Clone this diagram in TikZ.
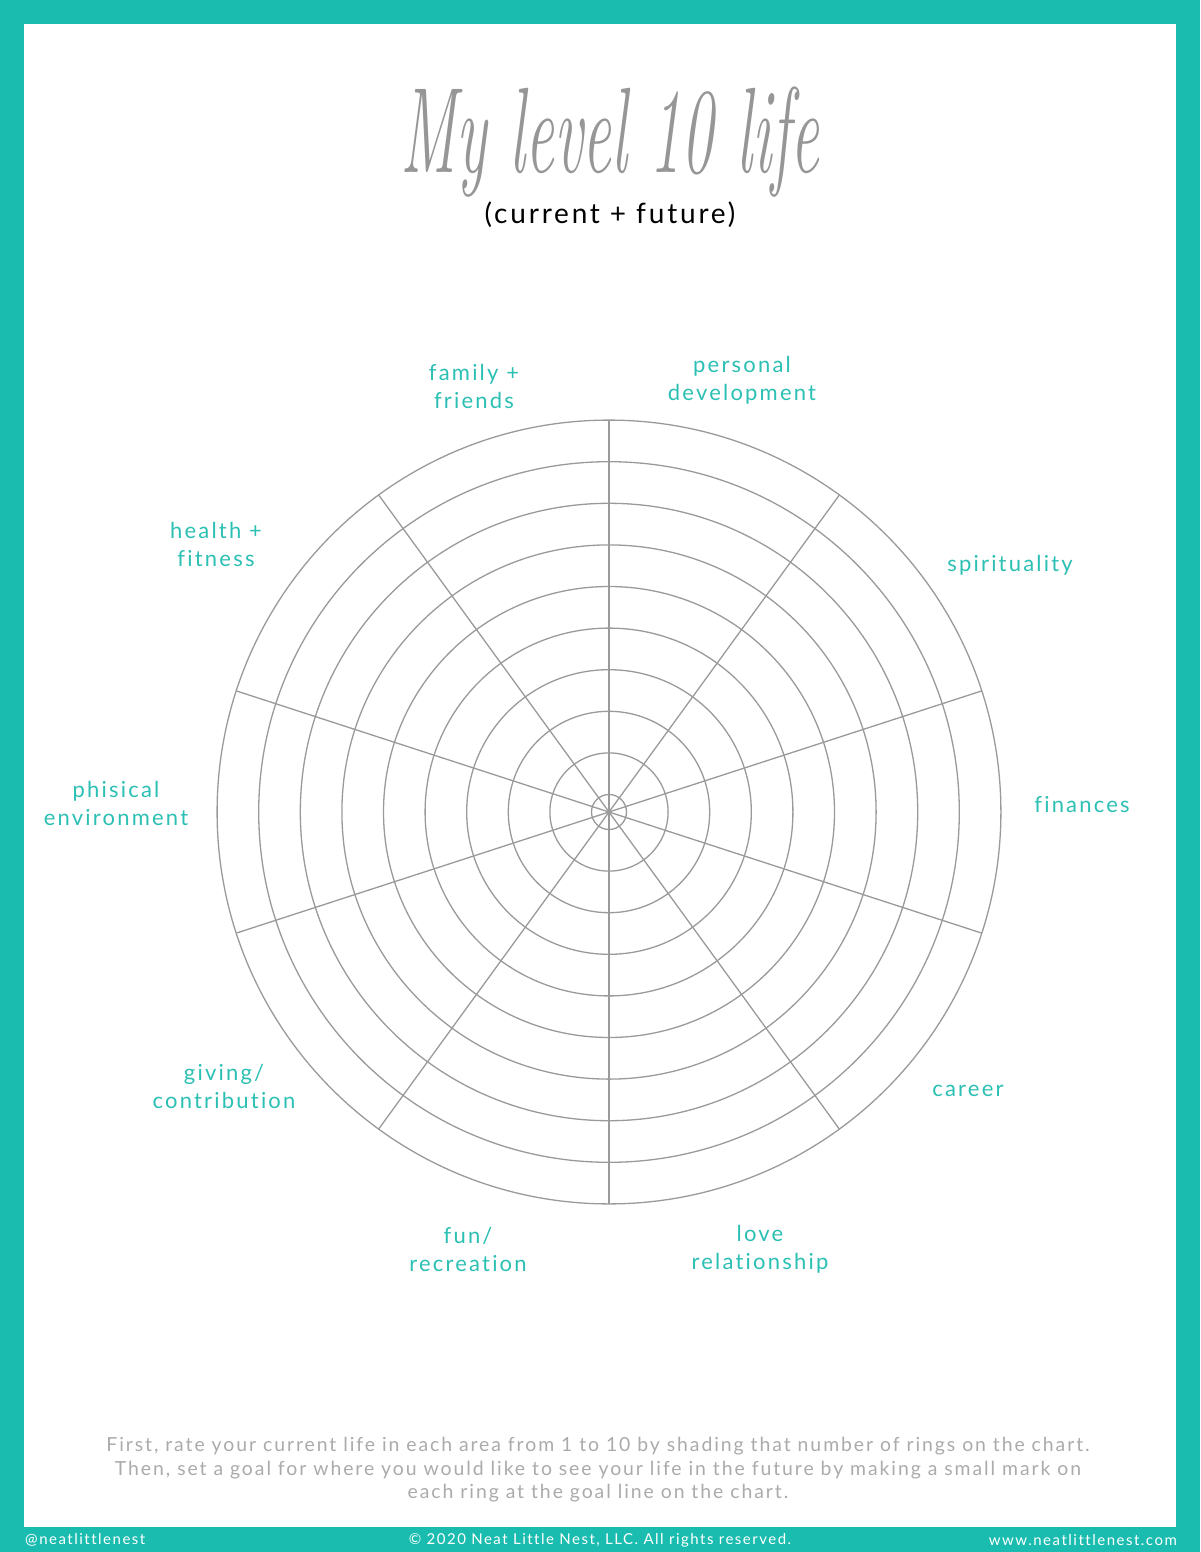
\documentclass[tikz,border=0pt]{standalone}
\usepackage{fontspec}
\setmainfont{Lato}[LetterSpace=10, Ligatures=NoCommon]
\newfontfamily\handfont{Latin Modern Roman}
\definecolor{nestteal}{HTML}{1ABCB0}
\definecolor{nestlabel}{HTML}{2CC0B4}
\definecolor{wheelgray}{HTML}{9A9A9A}
\definecolor{notegray}{HTML}{ABABAB}
\definecolor{titlegray}{HTML}{969696}

\begin{document}
\begin{tikzpicture}[x=1pt,y=-1pt,
  ring/.style={draw=wheelgray, line width=1.3pt},
  area/.style={text=nestlabel, align=center, inner sep=0pt, font=\fontsize{22}{28}\selectfont},
  foot/.style={text=white, inner sep=0pt, font=\fontsize{15}{17}\selectfont}]
% page and frame
\useasboundingbox (0,0) rectangle (1200,1552);
\fill[nestteal] (0,0) rectangle (1200,1552);
\fill[white] (24,24) rectangle (1176,1527);

% title
\node[text=titlegray, anchor=base, inner sep=0pt, transform shape, xscale=0.84, yscale=1.6,
  font=\handfont\itshape\fontsize{76}{80}\selectfont] (title) at (610,172) {My level 10 life};
\node[inner sep=0pt, font=\fontsize{28}{32}\selectfont] (subtitle) at (610,215) {(current + future)};

% wheel
\coordinate (hub) at (609,812);
\foreach \k in {0,...,9} {
  \pgfmathsetmacro\rr{17.5+41.6*\k}
  \draw[ring] (hub) circle[radius=\rr pt];
}
\foreach \a in {90,54,18,-18,-54,-90,-126,-162,162,126}
  \draw[ring] (hub) -- ++(\a:392pt);

% areas
\node[area] (family) at (474,386) {family +\\friends};
\node[area] (personal) at (742,380) {personal\\development};
\node[area] (spirit) at (1010,565) {spirituality};
\node[area] (finances) at (1082,805) {finances};
\node[area] (career) at (968,1091) {career};
\node[area] (love) at (760,1249) {love\\relationship};
\node[area] (fun) at (468,1249) {fun/\\recreation};
\node[area] (giving) at (224,1086) {giving/\\contribution};
\node[area] (physical) at (116,803) {phisical\\environment};
\node[area] (health) at (216,544) {health +\\fitness};

% note
\node[text=notegray, align=center, inner sep=0pt, font=\fontsize{19.4}{23.5}\selectfont] (note) at (598,1470)
  {First, rate your current life in each area from 1 to 10 by shading that number of rings on the chart.\\
   Then, set a goal for where you would like to see your life in the future by making a small mark on\\
   each ring at the goal line on the chart.};

% footer
\node[foot, anchor=west] (handle) at (25,1540) {@neatlittlenest};
\node[foot] (copy) at (600,1540) {© 2020 Neat Little Nest, LLC. All rights reserved.};
\node[foot, anchor=east] (site) at (1177,1540) {www.neatlittlenest.com};
\end{tikzpicture}
\end{document}
